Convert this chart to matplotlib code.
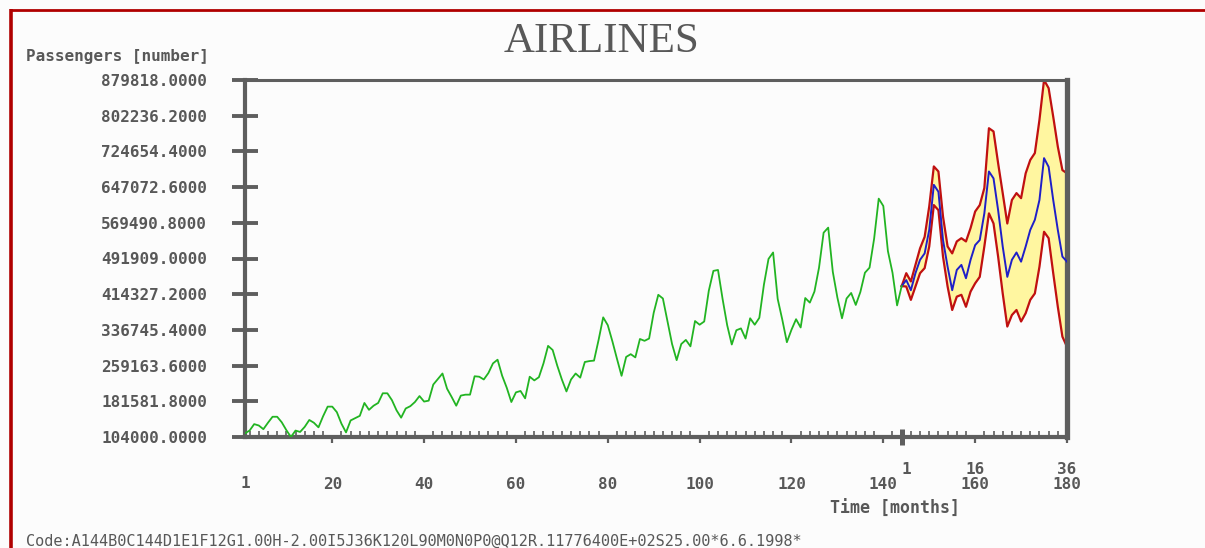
import numpy as np
import matplotlib
matplotlib.use("Agg")
import matplotlib.pyplot as plt
from matplotlib.lines import Line2D
from matplotlib.ticker import FixedLocator
import matplotlib.transforms as mtransforms

# Monthly airline passengers, 12 years of observations
passengers = [
    112, 118, 132, 129, 121, 135, 148, 148, 136, 119, 104, 118,
    115, 126, 141, 135, 125, 149, 170, 170, 158, 133, 114, 140,
    145, 150, 178, 163, 172, 178, 199, 199, 184, 162, 146, 166,
    171, 180, 193, 181, 183, 218, 230, 242, 209, 191, 172, 194,
    196, 196, 236, 235, 229, 243, 264, 272, 237, 211, 180, 201,
    204, 188, 235, 227, 234, 264, 302, 293, 259, 229, 203, 229,
    242, 233, 267, 269, 270, 315, 364, 347, 312, 274, 237, 278,
    284, 277, 317, 313, 318, 374, 413, 405, 355, 306, 271, 306,
    315, 301, 356, 348, 355, 422, 465, 467, 404, 347, 305, 336,
    340, 318, 362, 348, 363, 435, 491, 505, 404, 359, 310, 337,
    360, 342, 406, 396, 420, 472, 548, 559, 463, 407, 362, 405,
    417, 391, 419, 461, 472, 535, 622, 606, 508, 461, 390, 432,
]
passengers = [v * 1000 for v in passengers]

# 36-month forecast (thousands): point forecast and interval bounds
forecast = [445, 423, 460, 489, 503, 554, 652, 637, 532, 474, 423, 467,
            478, 449, 489, 521, 532, 590, 681, 666, 597, 518, 452, 489,
            505, 485, 518, 554, 576, 619, 710, 691, 619, 554, 496, 485]
upper = [460, 442, 478, 514, 539, 605, 692, 681, 583, 518, 503, 529,
         536, 529, 558, 594, 608, 645, 775, 768, 699, 634, 568, 619,
         634, 623, 677, 706, 721, 793, 879.818, 862, 800, 735, 684, 677]
lower = [431, 402, 431, 460, 471, 518, 608, 597, 496, 431, 380, 409,
         413, 387, 420, 438, 452, 518, 590, 568, 496, 416, 344, 369,
         380, 355, 373, 402, 416, 474, 550, 536, 460, 387, 322, 300]
forecast = [v * 1000 for v in forecast]
upper = [v * 1000 for v in upper]
lower = [v * 1000 for v in lower]

y_ticks = list(np.linspace(104000.0, 879818.0, 11))
x_ticks = [20, 40, 60, 80, 100, 120, 140, 160, 180]
fc_ticks = [1, 16, 36]

months = np.arange(1, len(passengers) + 1)
n_obs = len(passengers)
fc_months = np.arange(n_obs, n_obs + len(forecast) + 1)
fc_line = [passengers[-1]] + forecast
fc_up = [passengers[-1]] + upper
fc_lo = [passengers[-1]] + lower

TXT = "#585858"
AXC = "#5e5e5e"
MONO = "DejaVu Sans Mono"
FS = 11.5

fig = plt.figure(figsize=(12.05, 5.48), dpi=100, facecolor="#fcfcfc")
W, H = 1205.0, 548.0
ax = fig.add_axes([245 / W, 1 - 437 / H, (1067 - 245) / W, (437 - 80) / H])
ax.set_facecolor("#fcfcfc")

# frame lines of the page
fig.add_artist(Line2D([11 / W, 11 / W], [0, 1 - 9 / H], transform=fig.transFigure,
                      color="#b00000", lw=2.6, solid_capstyle="butt"))
fig.add_artist(Line2D([10 / W, 1], [1 - 10 / H, 1 - 10 / H], transform=fig.transFigure,
                      color="#b00000", lw=2.0, solid_capstyle="butt"))

# forecast band and lines
ax.fill_between(fc_months, fc_lo, fc_up, color="#fff6a0", lw=0, zorder=1)
ax.plot(fc_months, fc_up, color="#c01010", lw=1.6, zorder=2)
ax.plot(fc_months, fc_lo, color="#c01010", lw=1.6, zorder=2)
ax.plot(fc_months, fc_line, color="#1f1fc8", lw=1.4, zorder=3)
ax.plot(months, passengers, color="#22b422", lw=1.3, zorder=4)

ax.set_xlim(1, 180)
ax.set_ylim(y_ticks[0], y_ticks[-1])

for side, lw in (("left", 3.0), ("bottom", 3.0), ("right", 3.8), ("top", 2.2)):
    ax.spines[side].set_color(AXC)
    ax.spines[side].set_linewidth(lw)

ax.set_yticks(y_ticks)
ax.set_yticklabels([f"{v:.4f}" for v in y_ticks])
ax.tick_params(axis="y", direction="inout", length=18.5, width=2.8, color=AXC,
               pad=18.0, labelsize=FS, labelcolor=TXT)

ax.set_xticks(x_ticks)
ax.set_xticklabels([str(v) for v in x_ticks])
ax.xaxis.set_minor_locator(FixedLocator(np.arange(2, 181, 2)))
ax.tick_params(axis="x", which="major", direction="out", length=4.5, width=1.6,
               color=AXC, pad=24, labelsize=FS, labelcolor=TXT)
ax.tick_params(axis="x", which="minor", direction="in", length=4.5, width=1.2,
               color=AXC)

for lab in ax.get_xticklabels() + ax.get_yticklabels():
    lab.set_fontfamily(MONO)
    lab.set_fontweight("bold")

trans = mtransforms.blended_transform_factory(ax.transData, ax.transAxes)
# first month label and forecast step labels
ax.text(1, -0.129, "1", transform=trans, ha="center", va="center",
        fontfamily=MONO, fontweight="bold", fontsize=FS, color=TXT)
for k in fc_ticks:
    ax.text(n_obs + k, -0.09, str(k), transform=trans, ha="center", va="center",
            fontfamily=MONO, fontweight="bold", fontsize=FS, color=TXT)

# marker separating observations from the forecast
ax.add_line(Line2D([n_obs, n_obs], [-0.022, 0.022], transform=trans, color=AXC,
                   lw=3.6, clip_on=False, solid_capstyle="butt"))

ax.text(142.5, -0.202, "Time [months]", transform=trans, ha="center", va="center",
        fontfamily=MONO, fontweight="bold", fontsize=FS + 0.5, color=TXT)

fig.text(26 / W, 1 - 57 / H, "Passengers [number]", ha="left", va="center",
         fontfamily=MONO, fontweight="bold", fontsize=11.5, color=TXT)
fig.text(602 / W, 1 - 42 / H, "AIRLINES", ha="center", va="center",
         fontfamily="Liberation Serif", fontsize=31, color=TXT)
fig.text(26 / W, 1 - 541 / H,
         "Code:A144B0C144D1E1F12G1.00H-2.00I5J36K120L90M0N0P0@Q12R.11776400E+02S25.00*6.6.1998*",
         ha="left", va="center", fontfamily=MONO, fontsize=11, color=TXT)

fig.savefig("out.png", dpi=100, facecolor=fig.get_facecolor())
